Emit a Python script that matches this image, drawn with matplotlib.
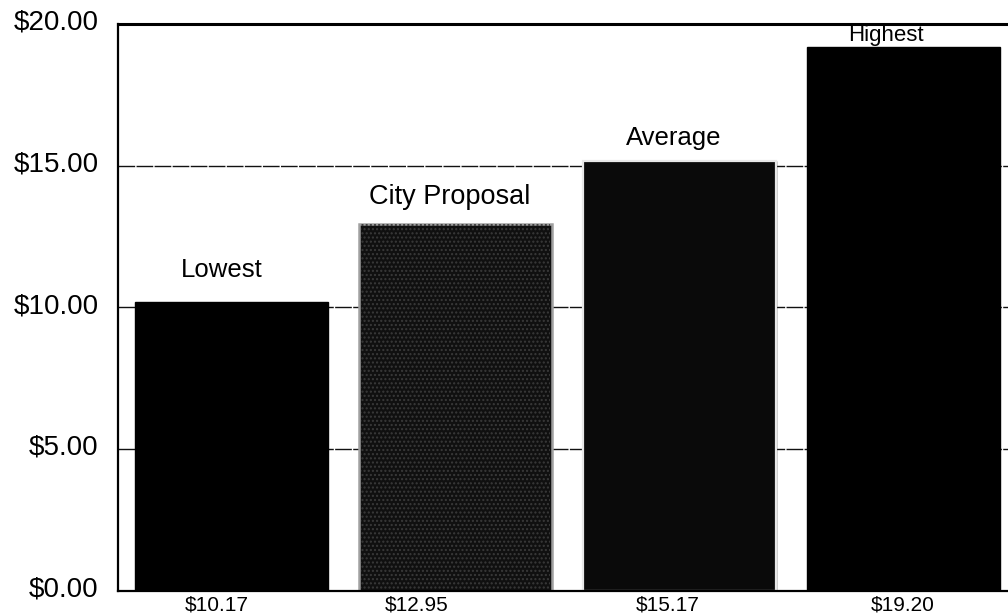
import matplotlib
matplotlib.use("Agg")
import matplotlib.pyplot as plt
import matplotlib.transforms as mtransforms

categories = ["Lowest", "City Proposal", "Average", "Highest"]
values = [10.17, 12.95, 15.17, 19.20]
value_labels = ["$10.17", "$12.95", "$15.17", "$19.20"]
yticks = [0, 5, 10, 15, 20]
ytick_labels = ["$0.00", "$5.00", "$10.00", "$15.00", "$20.00"]

# styling (not data)
face = ["#000000", "#101010", "#0a0a0a", "#000000"]
name_offsets_px = [(-10, 25), (-6, 20), (-6, 16), (-18, 6)]
name_sizes = [18.5, 19.5, 18.5, 16]
value_offsets_px = [-15, -39, -12, -1]

plt.rcParams['font.family'] = ['Liberation Sans', 'DejaVu Sans']

fig = plt.figure(figsize=(10.08, 6.16), dpi=100)
ax = fig.add_axes([118/1008, 25.5/616, (1017-118)/1008, (590.5-24)/616])

x = list(range(len(values)))
ax.set_xlim(-0.507, len(values) - 0.493)
ax.set_ylim(0, 20)

for yv in yticks[1:-1]:
    ax.axhline(yv, color="#111111", lw=1.0, ls=(0, (12, 1)), zorder=1)

bars = ax.bar(x, values, width=0.86, color=face, edgecolor=face, lw=1, zorder=2)
bars[1].set_edgecolor("#a0a0a0")
bars[1].set_linewidth(1.8)
# City Proposal: dark dotted texture overlay
ax.bar([x[1]], [values[1]], width=0.84, color="none", edgecolor="#3a3a3a",
       lw=0, hatch="....", zorder=2.5)
# Average: black outline with inner white border
ax.bar([x[2]], [values[2]], width=0.86, color="none", edgecolor="#e8e8e8", lw=1.6, zorder=3)

for i, (name, v) in enumerate(zip(categories, values)):
    dx, dy = name_offsets_px[i]
    ax.annotate(name, (x[i], v), xytext=(dx, dy), textcoords="offset pixels",
                ha="center", va="baseline", fontsize=name_sizes[i], zorder=4,
                annotation_clip=False, clip_on=True)

ax.set_xticks(x)
ax.set_xticklabels([])
for i, lab in enumerate(value_labels):
    ax.annotate(lab, (x[i], 0), xycoords=("data", "axes fraction"),
                xytext=(value_offsets_px[i], -20.5), textcoords="offset pixels",
                ha="center", va="baseline", fontsize=15, annotation_clip=False)

ax.set_yticks(yticks)
ax.set_yticklabels(ytick_labels, fontsize=20)
ax.tick_params(axis="both", length=0)
ax.tick_params(axis="y", pad=14)
off = mtransforms.ScaledTranslation(0, 4/100, fig.dpi_scale_trans)
for t in ax.get_yticklabels():
    t.set_transform(t.get_transform() + off)

for s in ["left", "bottom"]:
    ax.spines[s].set_linewidth(1.6)
ax.spines["top"].set_linewidth(2.2)
ax.spines["right"].set_linewidth(1.6)
for s in ax.spines.values():
    s.set_zorder(5)

fig.savefig("out.png", dpi=100)
